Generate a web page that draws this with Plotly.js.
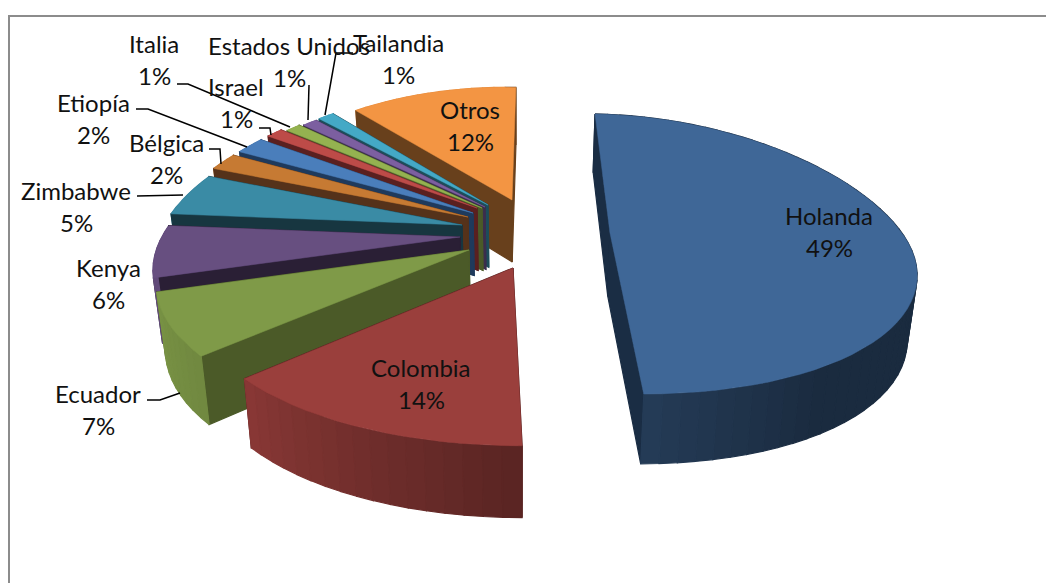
<!DOCTYPE html>
<html><head><meta charset="utf-8">
<script src="https://cdn.plot.ly/plotly-3.0.1.min.js"></script>
<style>html,body{margin:0;padding:0;background:#fff}#c{width:1046px;height:583px}</style>
</head><body><div id="c"></div>
<script>
// ---- data ----
const categories = ["Holanda","Colombia","Ecuador","Kenya","Zimbabwe","Bélgica","Etiopía","Israel","Italia","Estados Unidos","Tailandia","Otros"];
const values = [49.3,13.5,7.0,5.8,4.7,1.9,1.9,1.1,1.0,1.0,1.1,11.7];
// ---- style ----
const topColors  = ["#3f6797","#9a3f3c","#7f9a48","#674f80","#3a8ba5","#c67a33","#4a7ebb","#bd4b48","#94b250","#7c5fa0","#44a9c6","#f39543"];
const sideColors = ["#1a2d44","#4f1f1d","#4b5a28","#2a1f35","#173640","#55321a","#1f3a5c","#5a2020","#4a5a28","#3b2e4d","#1d4d5a","#68401c"];
// slice apex on the page, one per slice (exploded layout)
const apexX = [610,513,469,460,462,468,473,477,482,485,488,512];
const apexY = [233,268,250,237,225,217,213,208,208,207,205,200];
const radius = [1.015,1.03,1.03,1.03,1.05,1.07,1.07,1.06,1.05,1.04,1.04,1.03];
const labelX = [829,421,98,108,76,166,93,236,154,289,398,470];
const labelY = [215,367,393,267,190,142,102,86,43,45,42,109];
const lineGap = 32;
const leaders = [
 [[147,160,180],[400,400,393]],
 [[137,183],[196,195]],
 [[209,220,221],[149,149,164]],
 [[136,148,247],[109,109,147]],
 [[259,270,271],[128,128,135]],
 [[177,188,290],[84,84,127]],
 [[309,308],[85,120]],
 [[353,336,325],[53,53,115]]
];
// projection of the tilted disc onto the page
const CX=480, CY=250, A=298, B=140, K=0.15, START=2.5, H=64, NADIR=520;
const wx=Y=>1-0.225*Y+0.025*Math.sqrt(Y*Y+0.09);
function project(X,Y){const w=1-K*Y;return [CX+A*X/wx(Y), CY+B*Y/w, w];}
function unproject(sx,sy){const dy=sy-CY;const Y=dy/(B+K*dy);return [(sx-CX)*wx(Y)/A,Y];}
function drop(p){const h=H/Math.pow(p[2],0.6);return [p[0]+(NADIR-p[0])*0.025,p[1]+h,p[2]];}
function wallShade(a){const xs=[0,150,177,227,250,360],fs=[.42,.42,.56,.88,.95,.95];
  a=((a%360)+360)%360;for(let i=1;i<xs.length;i++)if(a<=xs[i]){const t=(a-xs[i-1])/(xs[i]-xs[i-1]);return fs[i-1]+t*(fs[i]-fs[i-1]);}return .95;}
function shade(hex,f){const n=parseInt(hex.slice(1),16);const c=[n>>16&255,n>>8&255,n&255].map(v=>Math.round(v*f));return `rgb(${c[0]},${c[1]},${c[2]})`;}
const total=values.reduce((a,b)=>a+b,0);
const slices=[];let acc=START;
values.forEach((v,i)=>{const a0=acc,a1=acc+v/total*360;acc=a1;slices.push({i,a0,a1});});
function poly(px,color,name,lw){return {type:'scatter',mode:'lines',x:px.map(p=>p[0]).concat(px[0][0]),y:px.map(p=>p[1]).concat(px[0][1]),
  fill:'toself',fillcolor:color,line:{color:color,width:lw},hoverinfo:'skip',showlegend:false,name:name};}
const drawOrder=[11,10,9,8,7,6,5,4,3,2,1,0];
const traces=[];
drawOrder.forEach(i=>{
  const s=slices[i];const w0=unproject(apexX[i],apexY[i]);const R=radius[i];
  const rim=a=>{const r=a*Math.PI/180;return project(w0[0]+R*Math.sin(r),w0[1]-R*Math.cos(r));};
  const ap=project(w0[0],w0[1]);
  const n=Math.max(3,Math.ceil((s.a1-s.a0)/3));
  const pts=[];for(let k=0;k<=n;k++)pts.push(rim(s.a0+(s.a1-s.a0)*k/n));
  const walls=[];
  [pts[0],pts[n]].forEach(e=>{walls.push({d:(e[1]+ap[1])/2,q:[ap,e,drop(e),drop(ap)],c:sideColors[i]});});
  for(let k=0;k<n;k++){const a=s.a0+(s.a1-s.a0)*(k+.5)/n;
    walls.push({d:(pts[k][1]+pts[k+1][1])/2,q:[pts[k],pts[k+1],drop(pts[k+1]),drop(pts[k])],c:shade(topColors[i],wallShade(a))});}
  walls.sort((a,b)=>a.d-b.d).forEach(w=>traces.push(poly(w.q,w.c,categories[i],1.2)));
  traces.push(poly([ap].concat(pts),topColors[i],categories[i],0.5));
});
leaders.forEach(l=>traces.push({type:'scatter',mode:'lines',x:l[0],y:l[1],line:{color:'#000',width:1.5},hoverinfo:'skip',showlegend:false}));
const font={family:'Lato, Carlito, sans-serif',size:24,color:'#111'};
const annotations=[];
categories.forEach((c,i)=>{
  annotations.push({x:labelX[i],y:labelY[i],text:c,showarrow:false,font,xref:'x',yref:'y',xanchor:'center',yanchor:'middle'});
  annotations.push({x:labelX[i],y:labelY[i]+lineGap,text:Math.round(values[i])+'%',showarrow:false,font,xref:'x',yref:'y',xanchor:'center',yanchor:'middle'});
});
const layout={width:1046,height:583,margin:{l:0,r:0,t:0,b:0},paper_bgcolor:'#fff',plot_bgcolor:'#fff',showlegend:false,
  xaxis:{range:[0,1046],visible:false,fixedrange:true},yaxis:{range:[583,0],visible:false,fixedrange:true},
  shapes:[{type:'rect',xref:'x',yref:'y',x0:9,y0:16,x1:1060,y1:600,line:{color:'#8c8c8c',width:2},fillcolor:'rgba(0,0,0,0)',layer:'below'}],
  annotations};
Plotly.newPlot('c',traces,layout,{displayModeBar:false,staticPlot:true});
</script></body></html>
